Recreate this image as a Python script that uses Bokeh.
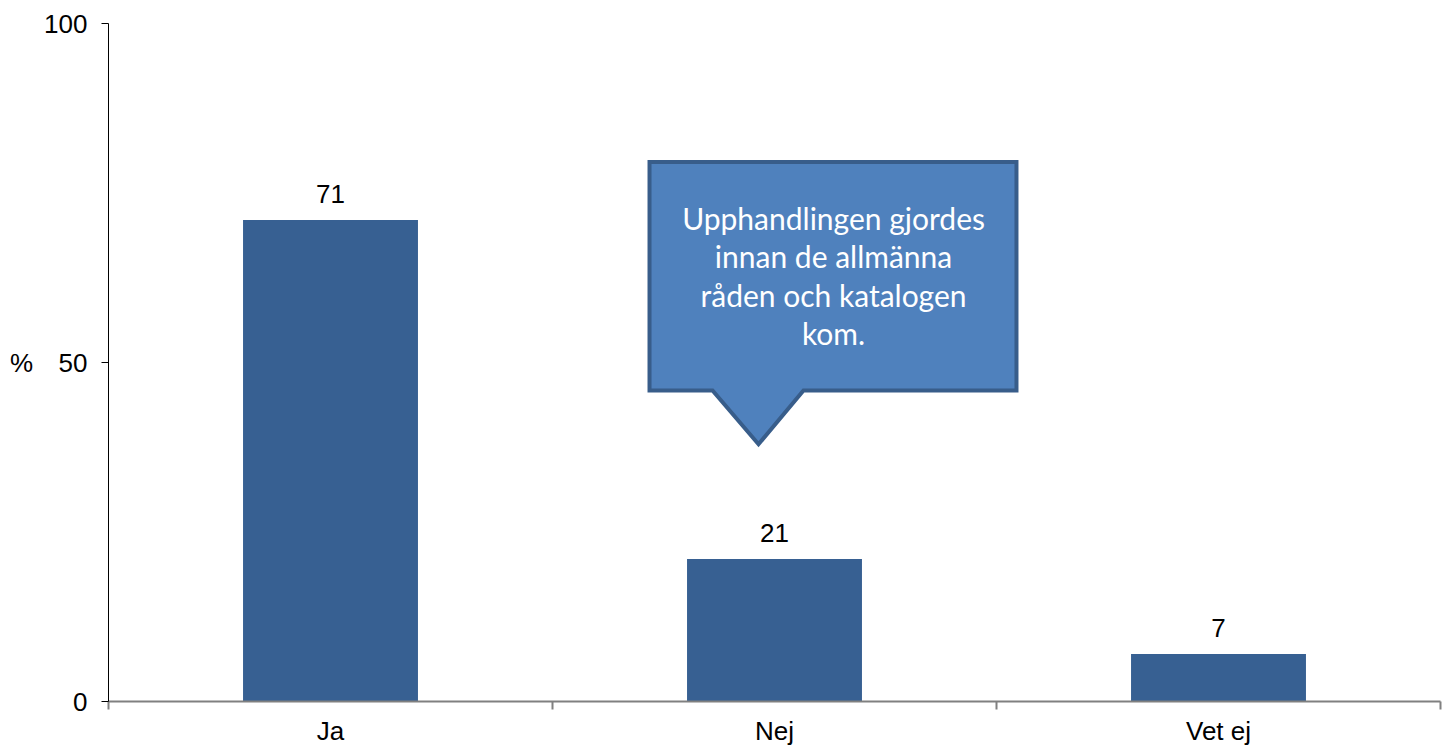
from bokeh.plotting import figure
from bokeh.models import FixedTicker, Range1d, ColumnDataSource
from bokeh.core.properties import value
from bokeh.embed import file_html
from bokeh.resources import INLINE

categories = ["Ja", "Nej", "Vet ej"]
values = [71, 21, 7]
y_ticks = [0, 50, 100]
callout_lines = ["Upphandlingen gjordes", "innan de allmänna", "råden och katalogen", "kom."]

xs = [i + 0.5 for i in range(len(categories))]

p = figure(width=1442, height=748, output_backend="svg", toolbar_location=None,
           x_range=Range1d(0, len(categories)), y_range=Range1d(0, 100),
           min_border_left=108, min_border_right=2, min_border_top=23, min_border_bottom=45)
p.outline_line_color = None
p.xgrid.visible = False
p.ygrid.visible = False
p.background_fill_color = "white"

src = ColumnDataSource(dict(x=xs, top=values, label=[str(v) for v in values]))
p.vbar(x="x", top="top", width=0.394, bottom=0, source=src, fill_color="#376092", line_color=None)
p.text(x="x", y="top", text="label", source=src, text_align="center", text_baseline="bottom",
       y_offset=-17, text_font=value("Liberation Sans"), text_font_size="26px", text_color="black")

# x axis
xa = p.xaxis[0]
xa.ticker = FixedTicker(ticks=xs, minor_ticks=list(range(len(categories) + 1)))
xa.major_label_overrides = {x: c for x, c in zip(xs, categories)}
xa.major_tick_line_color = None
xa.minor_tick_line_color = "#808080"
xa.minor_tick_out = 8
xa.minor_tick_in = 0
xa.axis_line_color = "#808080"
xa.axis_line_width = 2
xa.minor_tick_line_width = 2
xa.major_label_text_font = "Liberation Sans"
xa.major_label_text_font_size = "26px"
xa.major_label_text_color = "black"
xa.major_label_standoff = 6

# y axis
ya = p.yaxis[0]
ya.ticker = FixedTicker(ticks=y_ticks)
ya.minor_tick_line_color = None
ya.major_tick_out = 7
ya.major_tick_in = 0
ya.axis_line_color = "black"
ya.major_tick_line_color = "black"
ya.major_label_text_font = "Liberation Sans"
ya.major_label_text_font_size = "26px"
ya.major_label_text_color = "black"
ya.major_label_standoff = 14
ya.axis_label = "%"
ya.axis_label_orientation = "horizontal"
ya.axis_label_standoff = 8
ya.axis_label_text_font = "Liberation Sans"
ya.axis_label_text_font_size = "26px"
ya.axis_label_text_font_style = "normal"
ya.axis_label_text_color = "black"

# callout
bx0, bx1, by0, by1 = 1.2185, 2.045, 45.88, 79.56
px0, px1, tipx, tipy = 1.3604, 1.5653, 1.464, 37.94
p.patch(x=[bx0, bx1, bx1, px1, tipx, px0, bx0],
        y=[by1, by1, by0, by0, tipy, by0, by0],
        fill_color="#4F81BD", line_color="#385D8A", line_width=4, line_join="miter")
cx = 1.633
line_ys = [71.3, 65.7, 60.0, 54.3]
p.text(x=[cx] * len(callout_lines), y=line_ys, text=callout_lines, text_align="center",
       text_baseline="middle", text_font=value("Lato"), text_font_size="30px", text_color="white")

open("out.html", "w").write(file_html(p, INLINE))
